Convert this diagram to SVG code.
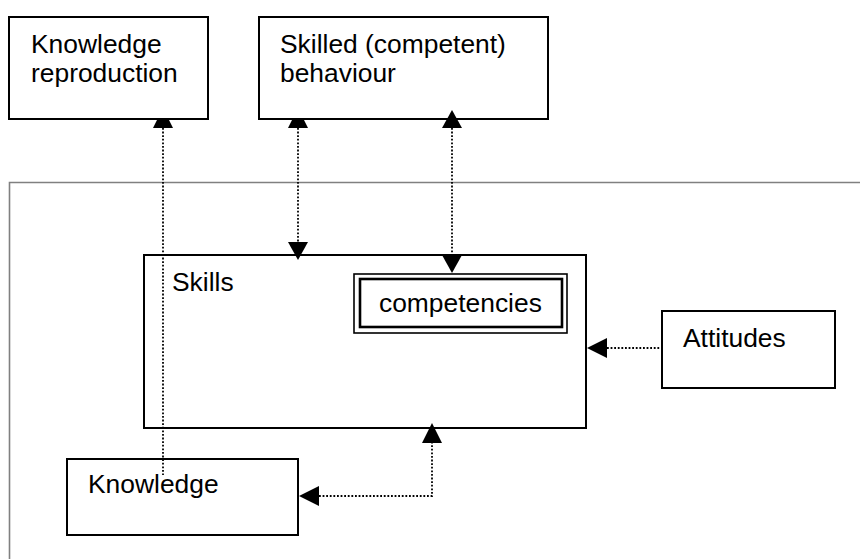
<svg xmlns="http://www.w3.org/2000/svg" width="861" height="559" viewBox="0 0 861 559">
<style>
.box{fill:#fff;stroke:#000;stroke-width:2}
.t{font-family:"Liberation Sans",Arial,sans-serif;font-size:26.4px;fill:#000}
.dot{fill:none;stroke:#000;stroke-width:1.8;stroke-dasharray:1.8 1.8}
.ah{fill:#000;stroke:none}
</style>
<rect width="861" height="559" fill="#fff"/>
<g id="frame">
<path d="M9.5,560 V182.5 H860" fill="none" stroke="#808080" stroke-width="1.6"/>
</g>
<g id="knowledge-reproduction">
<rect class="box" x="9" y="17" width="199" height="102"/>
<text class="t" x="31" y="53">Knowledge</text>
<text class="t" x="31" y="82">reproduction</text>
</g>
<g id="skilled-behaviour">
<rect class="box" x="259" y="17" width="289" height="102"/>
<text class="t" x="280" y="53">Skilled (competent)</text>
<text class="t" x="280" y="82">behaviour</text>
</g>
<g id="skills">
<rect class="box" x="144" y="255" width="442" height="173"/>
<text class="t" x="172" y="291">Skills</text>
</g>
<g id="competencies">
<rect x="354" y="274" width="213" height="59" fill="#fff" stroke="#000" stroke-width="1.6"/>
<rect x="360" y="279" width="202" height="48" fill="#fff" stroke="#000" stroke-width="2.6"/>
<text class="t" x="379" y="312">competencies</text>
</g>
<g id="attitudes">
<rect class="box" x="662" y="311" width="173" height="77"/>
<text class="t" x="683" y="347">Attitudes</text>
</g>
<g id="knowledge">
<rect class="box" x="67" y="459" width="231" height="76"/>
<text class="t" x="88" y="493">Knowledge</text>
</g>
<g id="connectors">
<path class="dot" d="M163,128 V475"/>
<polygon class="ah" points="157,120 169,120 173,128 153,128"/>
<path class="dot" d="M298,128 V242"/>
<polygon class="ah" points="292,120 304,120 308,128 288,128"/>
<polygon class="ah" points="288,242 308,242 298,260"/>
<path class="dot" d="M452,128 V255"/>
<polygon class="ah" points="452,110 462,128 442,128"/>
<polygon class="ah" points="442,255 462,255 452,273"/>
<path class="dot" d="M607,348 H662"/>
<polygon class="ah" points="587,348 607,338 607,358"/>
<path class="dot" d="M319,496 H432 V443"/>
<polygon class="ah" points="299,496 319,486 319,506"/>
<polygon class="ah" points="432,423 442,443 422,443"/>
</g>
</svg>
